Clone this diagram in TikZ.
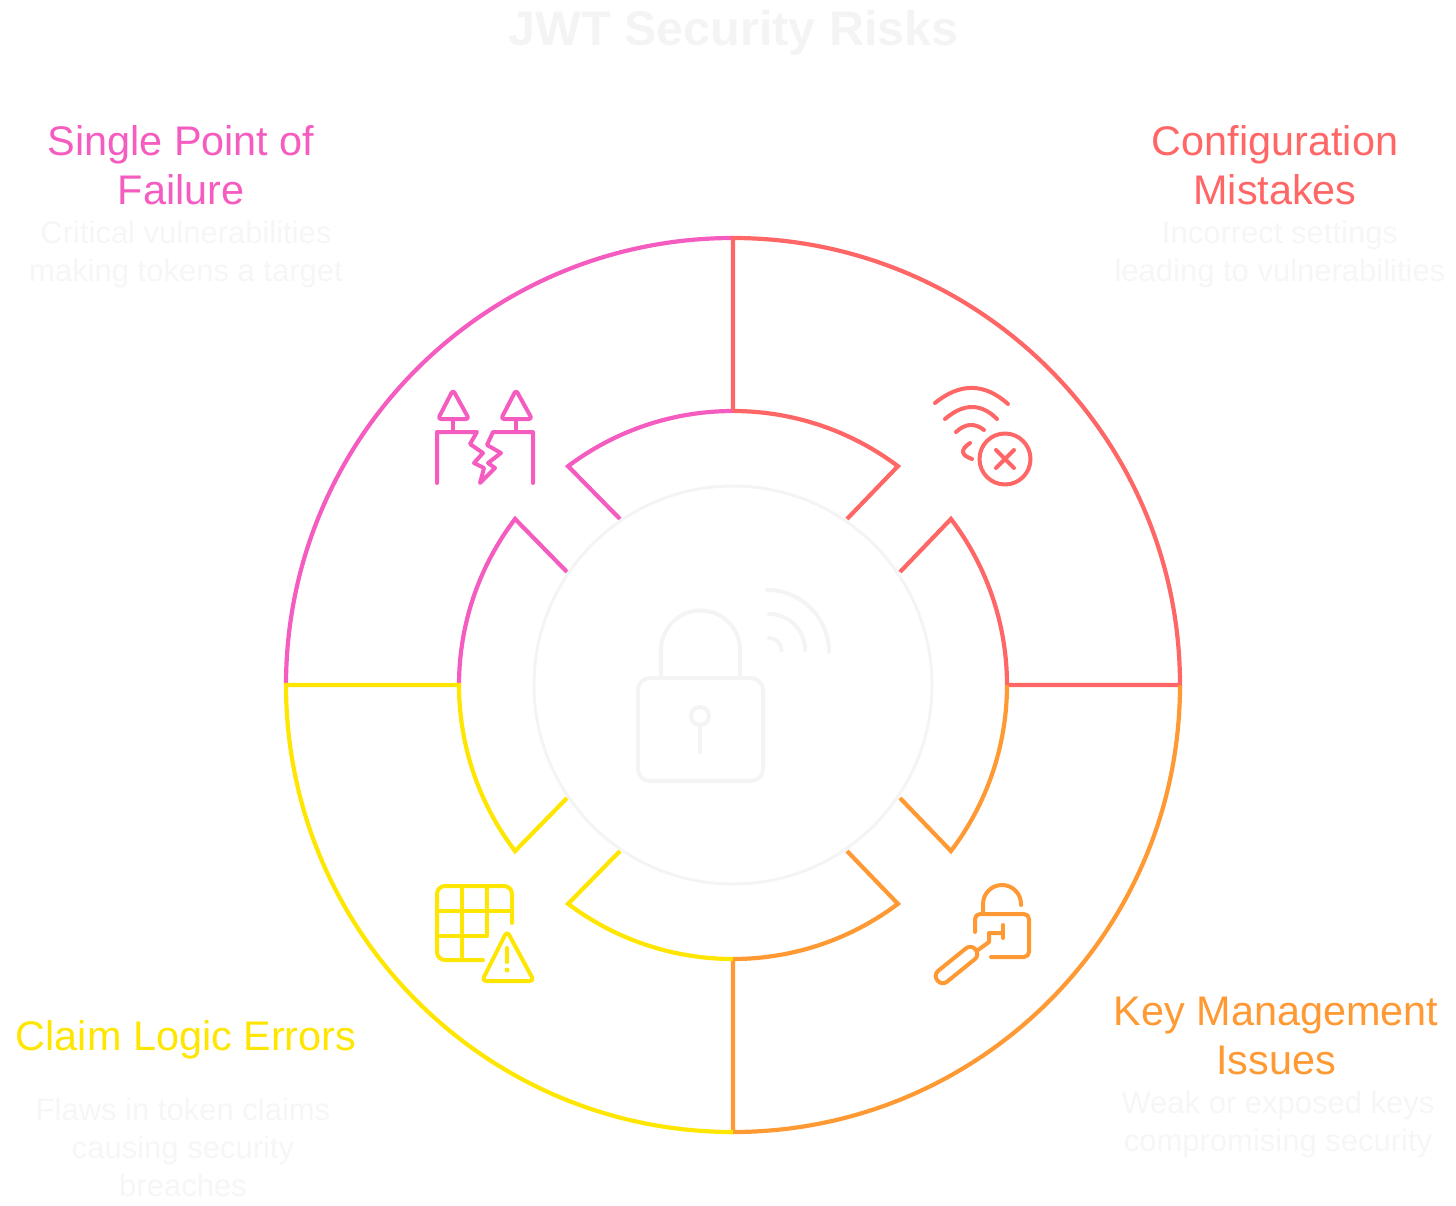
\documentclass[tikz,border=0pt]{standalone}
\usepackage{fontspec}
\setmainfont{Liberation Sans}
\definecolor{rosa}{HTML}{F45CBF}
\definecolor{rosso}{HTML}{FF6666}
\definecolor{arancio}{HTML}{FF9933}
\definecolor{giallo}{HTML}{FFE600}
\definecolor{tenue}{HTML}{F4F4F4}
\definecolor{tenuetesto}{HTML}{F6F6F6}
\tikzset{
  anello/.style={line width=4.2pt},
  icona/.style={line width=4pt,line cap=round,line join=round},
  titolo/.style={font=\fontsize{41.4}{49}\selectfont,align=center,inner sep=0pt},
  testo/.style={font=\fontsize{31}{38}\selectfont,align=center,inner sep=0pt,text=tenuetesto}
}
\begin{document}
\begin{tikzpicture}[x=1pt,y=-1pt]
  \useasboundingbox (0,0) rectangle (1456,1206);

  % titolo
  \node[font=\bfseries\fontsize{48.5}{50}\selectfont,text=tenue,inner sep=0pt] (intestazione) at (733.5,33) {JWT Security Risks};

  % settore rosa
  \draw[anello,rosa] (286,685) arc[start angle=180,end angle=270,radius=447];
  \draw[anello,rosa] (459,685) arc[start angle=180,end angle=217.3,radius=274] -- (567,572);
  \draw[anello,rosa] (733,411) arc[start angle=270,end angle=233,radius=274] -- (620,519);

  % settore rosso
  \draw[anello,rosso] (733,411) -- (733,238) arc[start angle=270,end angle=360,radius=447] -- (1007,685) arc[start angle=0,end angle=-37.3,radius=274] -- (900,572);
  \draw[anello,rosso] (733,411) arc[start angle=270,end angle=307,radius=274] -- (847,519);

  % settore arancio
  \draw[anello,arancio] (1180,685) arc[start angle=0,end angle=90,radius=447] -- (733,959) arc[start angle=90,end angle=53,radius=274] -- (847,851);
  \draw[anello,arancio] (1007,685) arc[start angle=0,end angle=37.3,radius=274] -- (900,798);

  % settore giallo
  \draw[anello,giallo] (733,1132) arc[start angle=90,end angle=180,radius=447] -- (459,685) arc[start angle=180,end angle=142.7,radius=274] -- (567,798);
  \draw[anello,giallo] (733,959) arc[start angle=90,end angle=127,radius=274] -- (620,851);

  % cerchio centrale
  \draw[tenue,line width=3pt] (733,685) circle (199);

  % lucchetto centrale
  \draw[icona,tenue,rounded corners=12] (638,678) rectangle (763,781);
  \draw[icona,tenue] (661,677) -- (661,650) arc[start angle=180,end angle=360,radius=39.5] -- (740,677);
  \draw[icona,tenue] (700,716) circle (9);
  \draw[icona,tenue] (700,725) -- (700,752);
  \draw[icona,tenue] (769,638) arc[start angle=-90,end angle=0,radius=12.5];
  \draw[icona,tenue] (769,614) arc[start angle=-90,end angle=0,radius=36];
  \draw[icona,tenue] (767,590) arc[start angle=-90,end angle=0,radius=62];

  % icona alberi
  \draw[icona,rosa,rounded corners=3] (453,390) -- (438,419) -- (469,419) -- cycle;
  \draw[icona,rosa,rounded corners=3] (516,390) -- (501,419) -- (532,419) -- cycle;
  \draw[icona,rosa] (453,419) -- (453,432);
  \draw[icona,rosa] (516,419) -- (516,432);
  \draw[icona,rosa] (437,483) -- (437,432) -- (477,432) -- (470,444) -- (483,453) -- (474,463) -- (484,468) -- (480,483) -- (495,468) -- (488,463) -- (501,453) -- (487,445) -- (493,432) -- (533,432) -- (533,483);

  % icona wifi
  \draw[icona,rosso] (935,403) .. controls (960,382.7) and (984.3,382.7) .. (1008,404);
  \draw[icona,rosso] (945,419) .. controls (963.7,403) and (981,403) .. (997,419);
  \draw[icona,rosso] (956,432) .. controls (965.3,423.3) and (974.7,422.7) .. (984,430);
  \draw[icona,rosso] (970,443) .. controls (960,449.7) and (960.7,455) .. (972,459);
  \draw[icona,rosso] (1005,459) circle (25.5);
  \draw[icona,rosso] (996,450) -- (1014,468);
  \draw[icona,rosso] (1014,450) -- (996,468);

  % icona chiave
  \draw[icona,arancio] (983,913) -- (983,904) arc[start angle=180,end angle=360,radius=19] -- (1021,905);
  \draw[icona,arancio,rounded corners=5] (975,932) -- (975,914) -- (1029,914) -- (1029,957) -- (991,957);
  \draw[icona,arancio] (1003,925) -- (1003,938);
  \draw[icona,arancio] (1003,933) -- (989,933) -- (989,942) -- (978,950);
  \draw[icona,arancio,shift={(956.5,965)},rotate=39,rounded corners=6.5] (-24.5,-7) rectangle (24.5,7);

  % icona tabella
  \draw[icona,giallo,rounded corners=8] (512,923) -- (512,886) -- (437,886) -- (437,960) -- (483,960);
  \draw[icona,giallo] (462,886) -- (462,960);
  \draw[icona,giallo] (487,886) -- (487,936) -- (437,936);
  \draw[icona,giallo] (437,911) -- (512,911);
  \draw[icona,giallo,rounded corners=4] (507,931) -- (482,981) -- (534,981) -- cycle;
  \draw[icona,giallo] (507,948) -- (507,962);
  \fill[giallo] (507,970) circle (2.5);

  % etichette
  \node[titolo,text=rosa] (puntosingolo) at (181,165) {Single Point of\\Failure};
  \node[testo] (puntotesto) at (186,254) {Critical vulnerabilities\\making tokens a target};

  \node[titolo,text=rosso] (configurazione) at (1275,165) {Configuration\\Mistakes};
  \node[testo] (configtesto) at (1280,254) {Incorrect settings\\leading to vulnerabilities};

  \node[titolo,text=arancio] (chiavi) at (1276,1036) {Key Management\\Issues};
  \node[testo] (chiavitesto) at (1278,1124) {Weak or exposed keys\\compromising security};

  \node[titolo,text=giallo] (claim) at (186,1040) {Claim Logic Errors};
  \node[testo] (claimtesto) at (183,1147) {Flaws in token claims\\causing security\\breaches};
\end{tikzpicture}
\end{document}
